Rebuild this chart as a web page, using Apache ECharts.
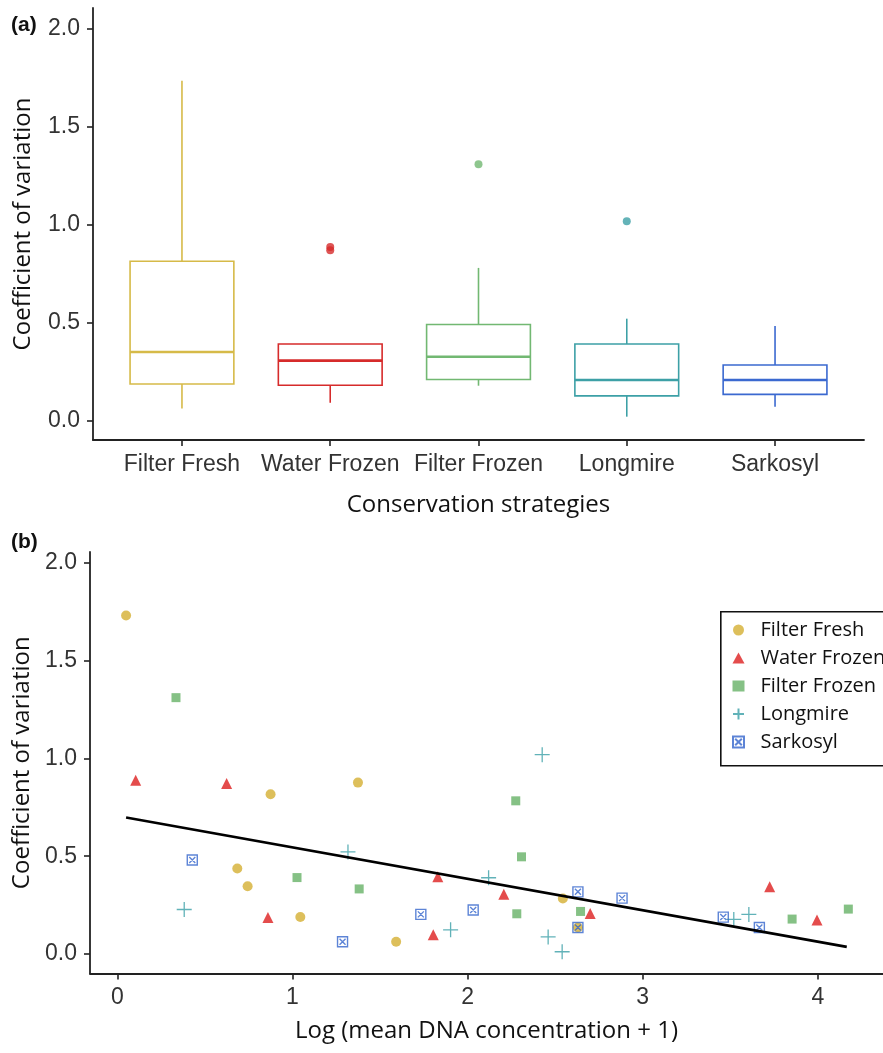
<!DOCTYPE html>
<html><head><meta charset="utf-8">
<script src="https://cdn.jsdelivr.net/npm/echarts@6/dist/echarts.min.js"></script>
<style>html,body{margin:0;padding:0;background:#fff}#c{width:883px;height:1053px}</style>
</head><body><div id="c"></div>
<script>
// ---------- Panel (a): box plot statistics ----------
const categories = ['Filter Fresh', 'Water Frozen', 'Filter Frozen', 'Longmire', 'Sarkosyl'];
const boxLower  = [0.064, 0.093, 0.180, 0.022, 0.073];
const boxQ1     = [0.189, 0.182, 0.212, 0.128, 0.136];
const boxMedian = [0.352, 0.308, 0.328, 0.209, 0.209];
const boxQ3     = [0.815, 0.393, 0.492, 0.393, 0.286];
const boxUpper  = [1.736, 0.393, 0.781, 0.522, 0.485];
const outlierCat = [1, 1, 2, 3];
const outlierVal = [0.888, 0.871, 1.310, 1.019];
const boxColors = ['#D6BA48', '#D62B2B', '#72B872', '#3DA0A6', '#3B69D0'];
const yTicks = [0, 0.5, 1, 1.5, 2];
const catTicks = [0, 1, 2, 3, 4];

// ---------- Panel (b): scatter ----------
const xTicksB = [0, 1, 2, 3, 4];
const ffX = [0.05, 0.875, 1.374, 0.685, 0.744, 1.045, 1.592, 2.544, 2.63];
const ffY = [1.730, 0.817, 0.876, 0.437, 0.347, 0.190, 0.063, 0.284, 0.136];
const wfX = [0.105, 0.624, 0.86, 1.83, 1.804, 2.207, 2.70, 3.725, 3.995];
const wfY = [0.888, 0.871, 0.187, 0.395, 0.099, 0.306, 0.208, 0.344, 0.174];
const fzX = [0.335, 1.026, 1.381, 2.275, 2.308, 2.281, 2.645, 3.853, 4.174];
const fzY = [1.310, 0.391, 0.333, 0.783, 0.497, 0.206, 0.218, 0.179, 0.230];
const lmX = [0.382, 1.317, 1.903, 2.12, 2.426, 2.46, 2.54, 3.52, 3.606];
const lmY = [0.228, 0.522, 0.124, 0.390, 1.019, 0.088, 0.012, 0.177, 0.203];
const skX = [0.428, 1.286, 1.733, 2.032, 2.63, 2.63, 2.882, 3.46, 3.666];
const skY = [0.481, 0.063, 0.203, 0.225, 0.318, 0.136, 0.286, 0.189, 0.136];
const trendX = [0.05, 4.165];
const trendY = [0.698, 0.037];
const pointColors = ['#D4AF32', '#DD1F1F', '#66B266', '#3A9FA6', '#3565CC'];

const zip = (a, b) => a.map((v, i) => [v, b[i]]);
const tickFont = { fontFamily: '"Liberation Sans", Arial, sans-serif', fontSize: 23, color: '#333' };
const titleFont = { fontFamily: '"Open Sans", sans-serif', fontSize: 24, color: '#111' };
const axisLine = { show: true, onZero: false, lineStyle: { color: '#222', width: 1.8 } };
const axisTick = { show: true, length: 6, lineStyle: { color: '#222', width: 1.6 } };

const chart = echarts.init(document.getElementById('c'), null, { renderer: 'canvas' });

const option = {
  animation: false,
  backgroundColor: '#fff',
  title: [
    { text: '(a)', left: 11, top: 15, padding: 0, textStyle: { fontFamily: '"Liberation Sans", Arial', fontWeight: 'bold', fontSize: 21, color: '#111' } },
    { text: '(b)', left: 11, top: 532, padding: 0, textStyle: { fontFamily: '"Liberation Sans", Arial', fontWeight: 'bold', fontSize: 21, color: '#111' } }
  ],
  grid: [
    { left: 93, top: 8, width: 771, height: 432, containLabel: false },
    { left: 90, top: 552, width: 793, height: 421.5, containLabel: false }
  ],
  graphic: [
    { type: 'rect', left: 720, top: 611, shape: { width: 240, height: 154 }, style: { stroke: '#111', lineWidth: 1.6, fill: 'rgba(255,255,255,0)' }, silent: true, z: -1 }
  ],
  xAxis: [
    {
      gridIndex: 0, type: 'value', min: -0.6, max: 4.6,
      splitLine: { show: false }, axisLine: axisLine,
      axisTick: Object.assign({ customValues: catTicks }, axisTick),
      axisLabel: Object.assign({ customValues: catTicks, margin: 13, formatter: v => categories[Math.round(v)] }, tickFont),
      name: 'Conservation strategies', nameLocation: 'middle', nameGap: 53, nameTextStyle: titleFont
    },
    {
      gridIndex: 1, type: 'value', min: -0.156, max: 4.372,
      splitLine: { show: false }, axisLine: axisLine,
      axisTick: Object.assign({ customValues: xTicksB }, axisTick),
      axisLabel: Object.assign({ customValues: xTicksB, margin: 13, formatter: v => String(v) }, tickFont),
      name: 'Log (mean DNA concentration + 1)', nameLocation: 'middle', nameGap: 46, nameTextStyle: titleFont
    }
  ],
  yAxis: [
    {
      gridIndex: 0, type: 'value', min: -0.097, max: 2.107,
      splitLine: { show: false }, axisLine: axisLine,
      axisTick: Object.assign({ customValues: yTicks }, axisTick),
      axisLabel: Object.assign({ customValues: yTicks, margin: 13, formatter: v => v.toFixed(1) }, tickFont),
      name: 'Coefficient of variation', nameLocation: 'middle', nameGap: 58, nameTextStyle: titleFont
    },
    {
      gridIndex: 1, type: 'value', min: -0.099, max: 2.054,
      splitLine: { show: false }, axisLine: axisLine,
      axisTick: Object.assign({ customValues: yTicks }, axisTick),
      axisLabel: Object.assign({ customValues: yTicks, margin: 13, formatter: v => v.toFixed(1) }, tickFont),
      name: 'Coefficient of variation', nameLocation: 'middle', nameGap: 55, nameTextStyle: titleFont
    }
  ],
  legend: {
    data: ['Filter Fresh', 'Water Frozen', 'Filter Frozen', 'Longmire', 'Sarkosyl'],
    orient: 'vertical', left: 720, top: 611,
    padding: [9, 10, 13, 12],
    itemWidth: 12, itemHeight: 11, itemGap: 8,
    borderWidth: 0,
    selectedMode: false,
    textStyle: { fontFamily: '"Open Sans", sans-serif', fontSize: 20, color: '#111', lineHeight: 20, padding: [0, 0, 0, 11], overflow: 'none' }
  },
  series: [
    {
      type: 'custom', xAxisIndex: 0, yAxisIndex: 0,
      data: categories.map((c, i) => [i, boxLower[i], boxQ1[i], boxMedian[i], boxQ3[i], boxUpper[i]]),
      renderItem: function (params, api) {
        const i = api.value(0);
        const col = boxColors[i];
        const hw = 0.35;
        const pLow = api.coord([i, api.value(1)]);
        const pQ1R = api.coord([i + hw, api.value(2)]);
        const pMedL = api.coord([i - hw, api.value(3)]);
        const pMedR = api.coord([i + hw, api.value(3)]);
        const pQ3L = api.coord([i - hw, api.value(4)]);
        const pQ3 = api.coord([i, api.value(4)]);
        const pQ1 = api.coord([i, api.value(2)]);
        const pUp = api.coord([i, api.value(5)]);
        const st = { stroke: col, lineWidth: 1.6, fill: null };
        return {
          type: 'group',
          children: [
            { type: 'line', shape: { x1: pUp[0], y1: pUp[1], x2: pQ3[0], y2: pQ3[1] }, style: st },
            { type: 'line', shape: { x1: pQ1[0], y1: pQ1[1], x2: pLow[0], y2: pLow[1] }, style: st },
            { type: 'rect', shape: { x: pQ3L[0], y: pQ3L[1], width: pQ1R[0] - pQ3L[0], height: pQ1R[1] - pQ3L[1] }, style: { stroke: col, lineWidth: 1.6, fill: 'rgba(255,255,255,0)' } },
            { type: 'line', shape: { x1: pMedL[0], y1: pMedL[1], x2: pMedR[0], y2: pMedR[1] }, style: { stroke: col, lineWidth: 2.6 } }
          ]
        };
      },
      silent: true
    },
    {
      type: 'scatter', xAxisIndex: 0, yAxisIndex: 0, symbol: 'circle', symbolSize: 8,
      data: outlierCat.map((c, i) => ({ value: [c, outlierVal[i]], itemStyle: { color: boxColors[c] } })),
      silent: true
    },
    {
      name: 'Filter Fresh', type: 'scatter', xAxisIndex: 1, yAxisIndex: 1,
      symbol: 'circle', symbolSize: 10, itemStyle: { color: pointColors[0] }, data: zip(ffX, ffY)
    },
    {
      name: 'Water Frozen', type: 'scatter', xAxisIndex: 1, yAxisIndex: 1,
      symbol: 'triangle', symbolSize: 11, itemStyle: { color: pointColors[1] }, data: zip(wfX, wfY)
    },
    {
      name: 'Filter Frozen', type: 'scatter', xAxisIndex: 1, yAxisIndex: 1,
      symbol: 'rect', symbolSize: 9, itemStyle: { color: pointColors[2] }, data: zip(fzX, fzY)
    },
    {
      name: 'Longmire', type: 'scatter', xAxisIndex: 1, yAxisIndex: 1,
      symbol: 'path://M8,0L8,16M0,8L16,8', symbolSize: 15,
      itemStyle: { color: 'rgba(0,0,0,0)', borderColor: pointColors[3], borderWidth: 1.3 }, data: zip(lmX, lmY)
    },
    {
      name: 'Sarkosyl', type: 'scatter', xAxisIndex: 1, yAxisIndex: 1,
      symbol: 'path://M0,0L10,0L10,10L0,10ZM2,2L8,8M8,2L2,8', symbolSize: 10,
      itemStyle: { color: 'rgba(0,0,0,0)', borderColor: pointColors[4], borderWidth: 1.4 }, data: zip(skX, skY)
    },
    {
      type: 'line', xAxisIndex: 1, yAxisIndex: 1, symbol: 'none', silent: true,
      lineStyle: { color: '#000', width: 2.6 }, data: zip(trendX, trendY), z: 5
    }
  ]
};
chart.setOption(option);
</script>
</body></html>
